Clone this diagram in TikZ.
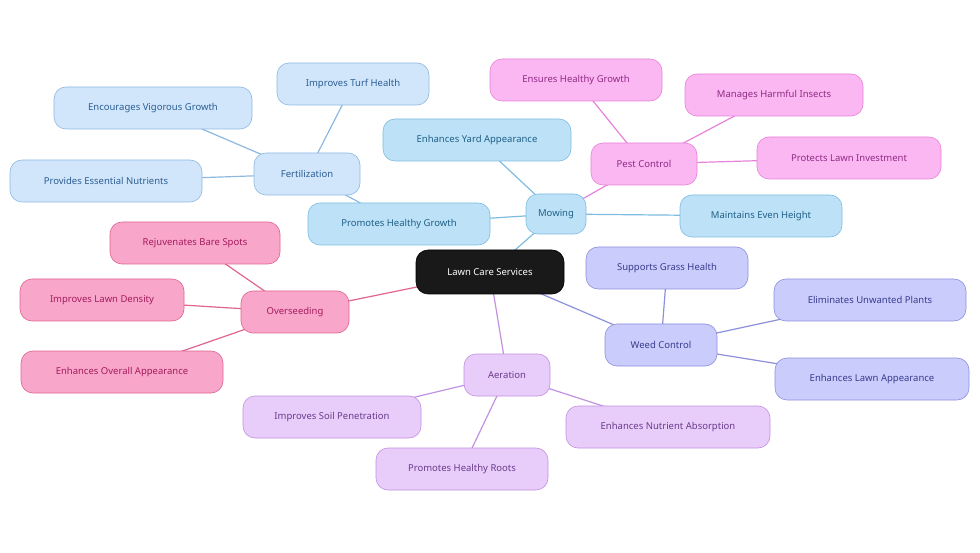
\documentclass[tikz,border=0pt]{standalone}
\usepackage{fontspec}
\setmainfont{Noto Sans}
\usetikzlibrary{backgrounds}
\definecolor{bluef}{HTML}{BDE2F8}\definecolor{bluet}{HTML}{1E5F86}\definecolor{bluel}{HTML}{7DBCE0}
\definecolor{lbluef}{HTML}{D2E6FB}\definecolor{lbluet}{HTML}{2B5E93}\definecolor{lbluel}{HTML}{8DB8E0}
\definecolor{pinkf}{HTML}{FBB7F1}\definecolor{pinkt}{HTML}{8E2B86}\definecolor{pinkl}{HTML}{E682DA}
\definecolor{weedf}{HTML}{CACCFB}\definecolor{weedt}{HTML}{383C8E}\definecolor{weedl}{HTML}{8C90DC}
\definecolor{aerf}{HTML}{E8CDFB}\definecolor{aert}{HTML}{6A3A8A}\definecolor{aerl}{HTML}{C291E0}
\definecolor{ovf}{HTML}{F9A6CB}\definecolor{ovt}{HTML}{A31B5C}\definecolor{ovl}{HTML}{E0648F}
\begin{document}
\begin{tikzpicture}[x=1pt,y=-1pt,
  box/.style={rounded corners=12pt,minimum height=42pt,inner sep=0pt,draw,font=\fontsize{9.5}{11}\selectfont,line width=0.6pt},
  blue/.style={box,fill=bluef,draw=bluel,text=bluet},
  lblue/.style={box,fill=lbluef,draw=lbluel,text=lbluet},
  pink/.style={box,fill=pinkf,draw=pinkl,text=pinkt},
  weed/.style={box,fill=weedf,draw=weedl,text=weedt},
  aer/.style={box,fill=aerf,draw=aerl,text=aert},
  over/.style={box,fill=ovf,draw=ovl,text=ovt},
  link/.style={line width=1.2pt}]
\useasboundingbox (0,0) rectangle (980,553);
\node[box,fill=black!90,draw=black,text=white,minimum width=148pt,minimum height=44pt] (root) at (490,272) {Lawn Care Services};
% mowing
\node[blue,minimum width=60pt,minimum height=40pt] (mow) at (556,214) {Mowing};
\node[blue,minimum width=182pt] (grow) at (399,224) {Promotes Healthy Growth};
\node[blue,minimum width=188pt] (yard) at (477,140) {Enhances Yard Appearance};
\node[blue,minimum width=162pt] (height) at (761,216) {Maintains Even Height};
% fertilization
\node[lblue,minimum width=106pt] (fert) at (307,174) {Fertilization};
\node[lblue,minimum width=152pt] (turf) at (353,84) {Improves Turf Health};
\node[lblue,minimum width=198pt] (vig) at (153,108) {Encourages Vigorous Growth};
\node[lblue,minimum width=192pt] (nutr) at (106,181) {Provides Essential Nutrients};
% pest control
\node[pink,minimum width=106pt] (pest) at (644,164) {Pest Control};
\node[pink,minimum width=172pt] (ensure) at (576,80) {Ensures Healthy Growth};
\node[pink,minimum width=178pt] (insect) at (774,95) {Manages Harmful Insects};
\node[pink,minimum width=184pt] (invest) at (849,158) {Protects Lawn Investment};
% weed control
\node[weed,minimum width=112pt] (weed) at (661,345) {Weed Control};
\node[weed,minimum width=162pt] (grass) at (667,268) {Supports Grass Health};
\node[weed,minimum width=192pt] (elim) at (870,300) {Eliminates Unwanted Plants};
\node[weed,minimum width=194pt] (lawnapp) at (872,379) {Enhances Lawn Appearance};
% aeration
\node[aer,minimum width=86pt] (aer) at (507,375) {Aeration};
\node[aer,minimum width=178pt] (soil) at (332,417) {Improves Soil Penetration};
\node[aer,minimum width=204pt] (absorb) at (668,427) {Enhances Nutrient Absorption};
\node[aer,minimum width=172pt] (roots) at (462,469) {Promotes Healthy Roots};
% overseeding
\node[over,minimum width=108pt] (over) at (295,312) {Overseeding};
\node[over,minimum width=170pt] (bare) at (195,243) {Rejuvenates Bare Spots};
\node[over,minimum width=164pt] (dens) at (102,300) {Improves Lawn Density};
\node[over,minimum width=202pt] (overall) at (122,372) {Enhances Overall Appearance};
\begin{scope}[on background layer]
\draw[link,bluel] (root.center) -- (mow.center) (mow.center) -- (grow.center)
  (mow.center) -- (yard.center) (mow.center) -- (height.center);
\draw[link,lbluel] (grow.center) -- (fert.center) (fert.center) -- (turf.center)
  (fert.center) -- (vig.center) (fert.center) -- (nutr.center);
\draw[link,pinkl] (mow.center) -- (pest.center) (pest.center) -- (ensure.center)
  (pest.center) -- (insect.center) (pest.center) -- (invest.center);
\draw[link,weedl] (root.center) -- (weed.center) (weed.center) -- (grass.center)
  (weed.center) -- (elim.center) (weed.center) -- (lawnapp.center);
\draw[link,aerl] (root.center) -- (aer.center) (aer.center) -- (soil.center)
  (aer.center) -- (absorb.center) (aer.center) -- (roots.center);
\draw[link,ovl] (root.center) -- (over.center) (over.center) -- (bare.center)
  (over.center) -- (dens.center) (over.center) -- (overall.center);
\end{scope}
\end{tikzpicture}
\end{document}
